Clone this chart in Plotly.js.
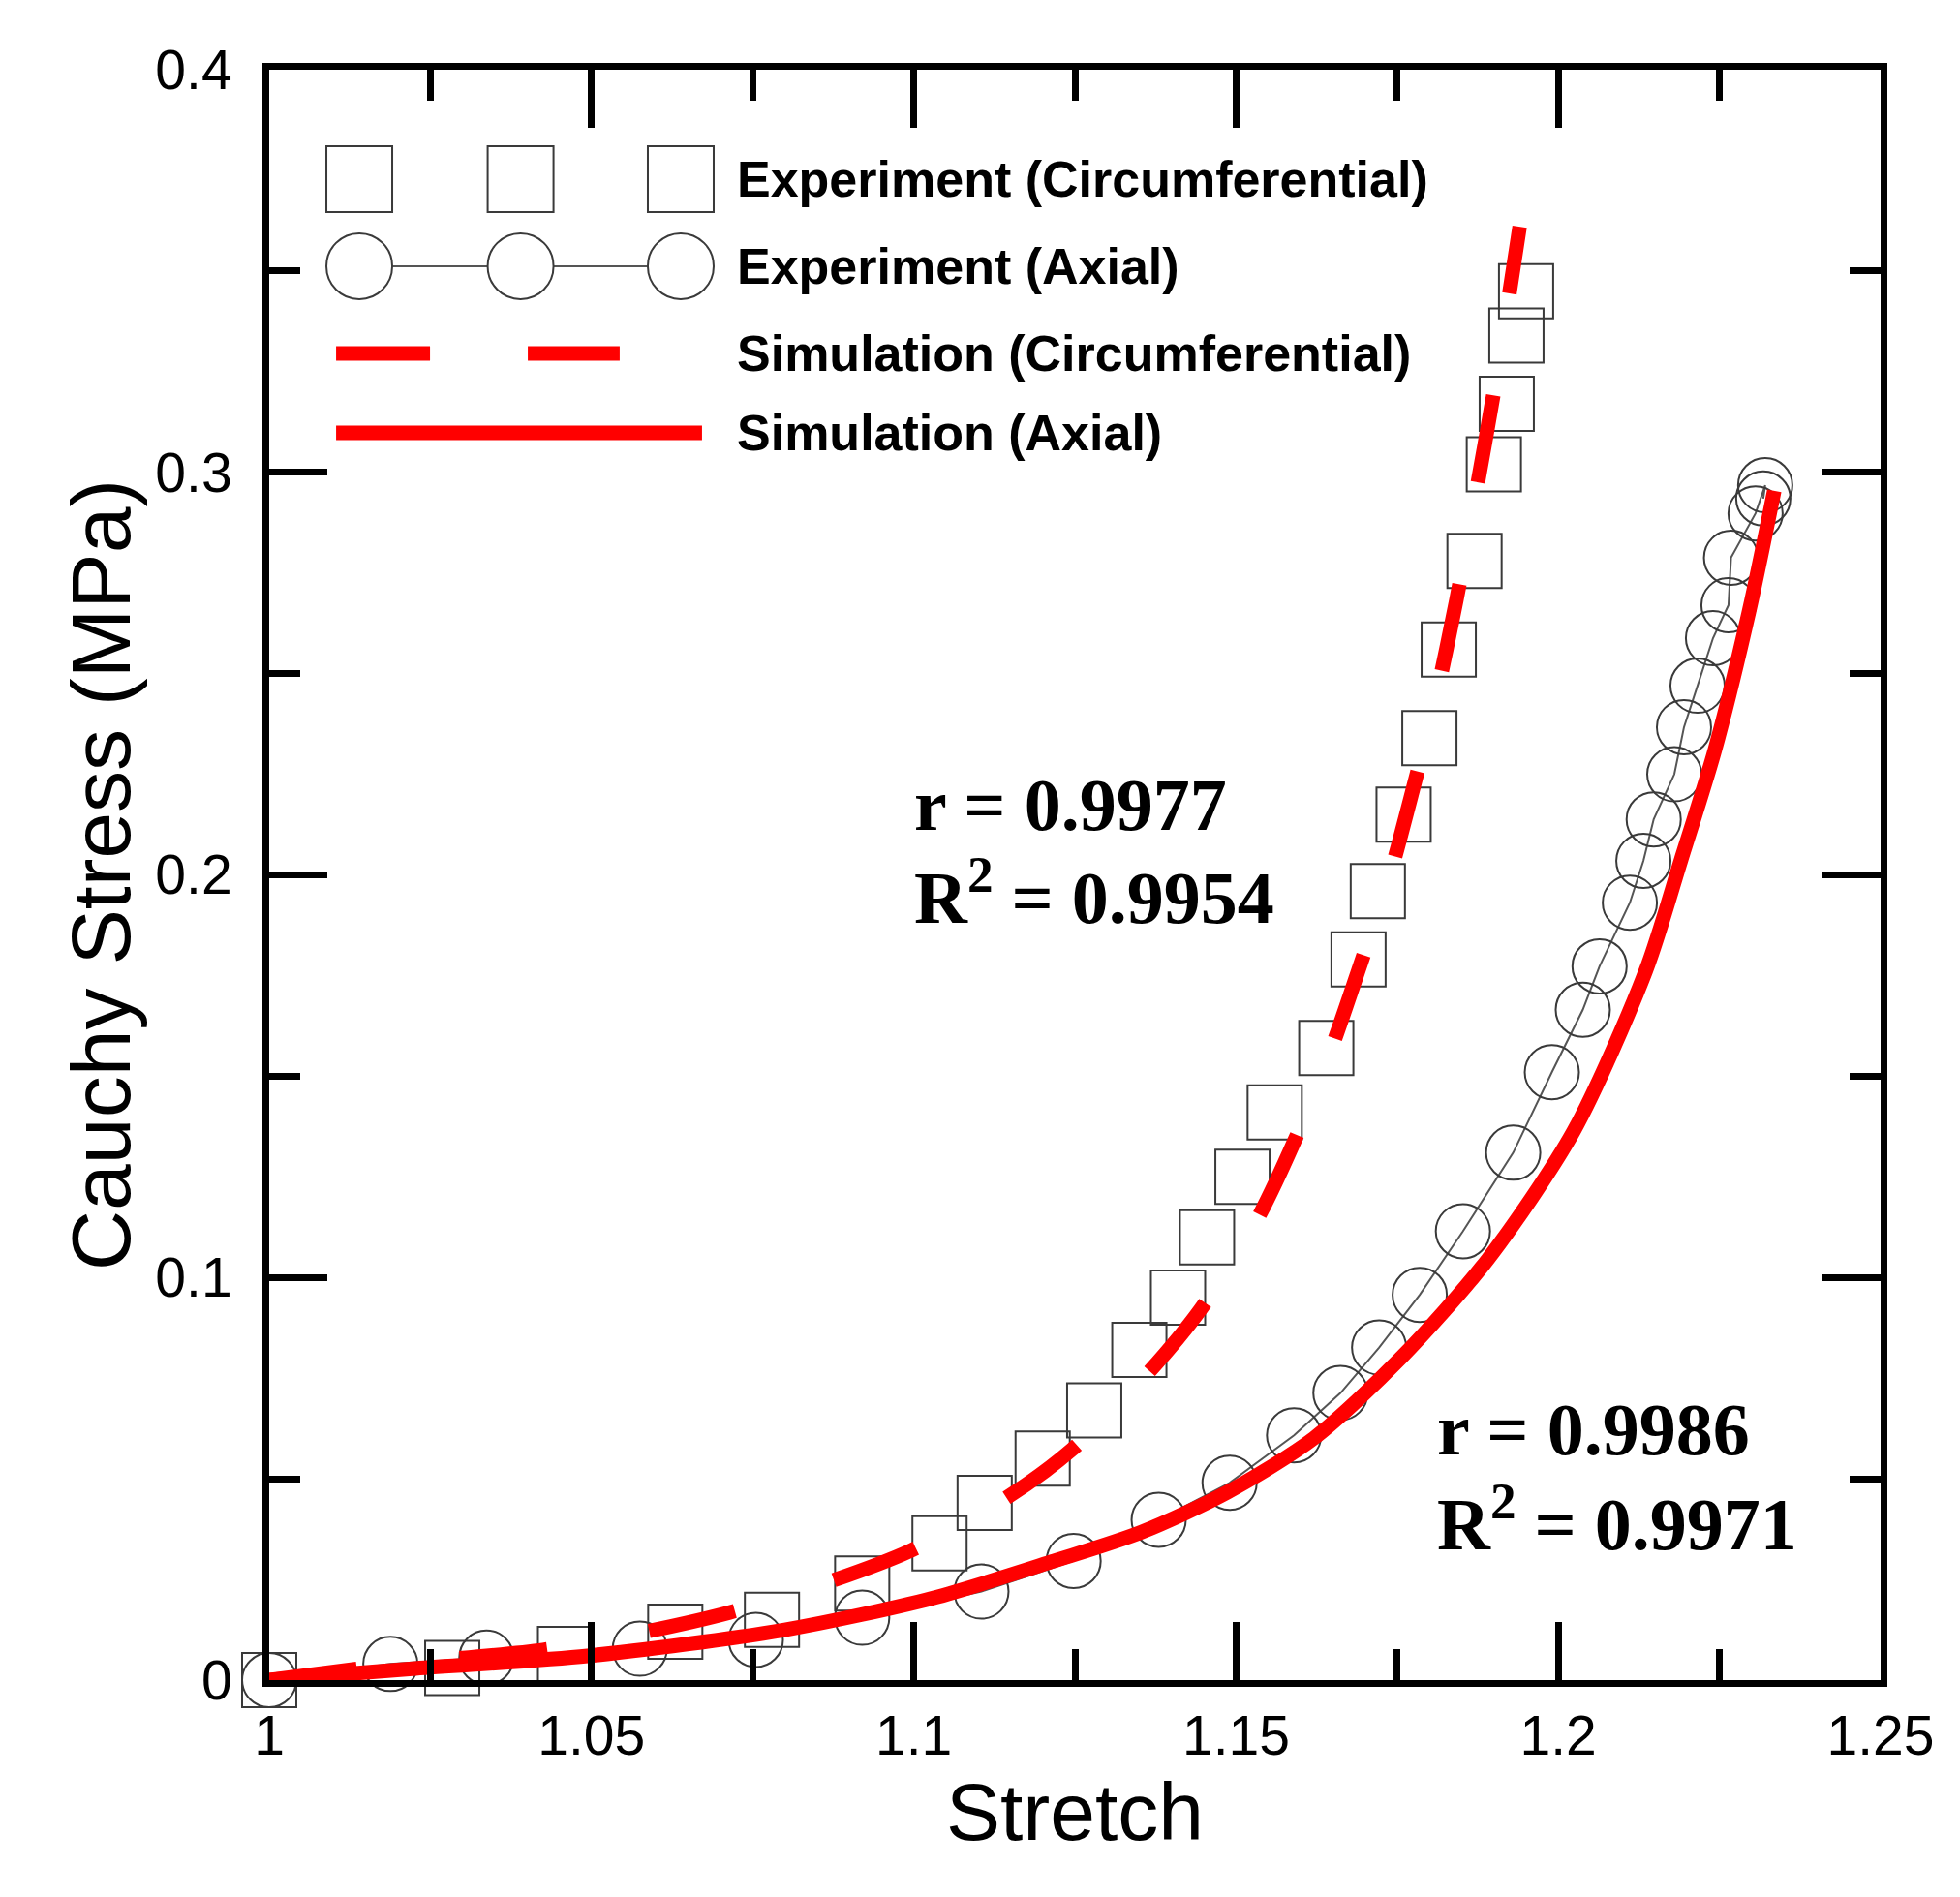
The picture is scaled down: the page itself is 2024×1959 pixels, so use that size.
<!DOCTYPE html>
<html>
<head>
<meta charset="utf-8">
<script src="https://cdn.plot.ly/plotly-3.0.1.min.js"></script>
<style>
  html, body { margin: 0; padding: 0; background: #fff; }
  #chart { width: 2024px; height: 1959px; }
</style>
</head>
<body>
<div id="chart"></div>
<script>
// experiment, circumferential direction (squares)
const circStretch = [1.000, 1.0284, 1.0459, 1.063, 1.078, 1.092, 1.104, 1.111, 1.120, 1.128, 1.135, 1.141, 1.1455,
    1.151, 1.156, 1.164, 1.169, 1.172, 1.176, 1.180, 1.183, 1.187, 1.190, 1.192, 1.1935, 1.1950];
const circStress = [0.000, 0.003, 0.0065, 0.012, 0.015, 0.024, 0.034, 0.044, 0.055, 0.067, 0.082, 0.095, 0.110,
    0.125, 0.141, 0.157, 0.179, 0.196, 0.215, 0.234, 0.256, 0.278, 0.302, 0.317, 0.334, 0.345];

// experiment, axial direction (circles)
const axialStretch = [1.000, 1.0188, 1.0337, 1.0575, 1.0755, 1.092, 1.1105, 1.1248, 1.138, 1.149, 1.159, 1.1662,
    1.1722, 1.1785, 1.1852, 1.193, 1.199, 1.2038, 1.2064, 1.2111, 1.2132, 1.2148, 1.218, 1.2195, 1.2216, 1.224,
    1.2264, 1.2268, 1.2306, 1.2321, 1.2318];
const axialStress = [0.000, 0.004, 0.0056, 0.0078, 0.010, 0.0155, 0.022, 0.0296, 0.0398, 0.049, 0.0608, 0.0713,
    0.0826, 0.0957, 0.1115, 0.131, 0.151, 0.1665, 0.1773, 0.1931, 0.2035, 0.2138, 0.225, 0.2367, 0.247, 0.2588,
    0.267, 0.2788, 0.2898, 0.2968, 0.2935];

// simulation curves
const simCircStretch = [1.000, 1.020, 1.0425, 1.0583, 1.0714, 1.087, 1.0993, 1.1142, 1.1245, 1.1363, 1.1445,
    1.1528, 1.159, 1.1646, 1.1692, 1.1737, 1.1774, 1.181, 1.1842, 1.1869, 1.190, 1.194];
const simCircStress = [0.000, 0.004, 0.0075, 0.012, 0.0168, 0.0245, 0.032, 0.0451, 0.0572, 0.0762, 0.0921,
    0.113, 0.1337, 0.156, 0.1773, 0.199, 0.221, 0.244, 0.2684, 0.292, 0.320, 0.361];
const simAxialStretch = [1.000, 1.0227, 1.0494, 1.080, 1.103, 1.1218, 1.1354, 1.1487, 1.1621, 1.1755, 1.189,
    1.2024, 1.2136, 1.219, 1.2243, 1.2296, 1.2335];
const simAxialStress = [0.000, 0.0029, 0.006, 0.0125, 0.0204, 0.0296, 0.0368, 0.0467, 0.0601, 0.0799, 0.1044,
    0.1364, 0.1763, 0.2035, 0.2311, 0.2655, 0.2954];

const legendNames = ['Experiment (Circumferential)', 'Experiment (Axial)',
    'Simulation (Circumferential)', 'Simulation (Axial)'];
const fitCirc = ['r = 0.9977', 'R<sup>2</sup> = 0.9954'];
const fitAxial = ['r = 0.9986', 'R<sup>2</sup> = 0.9971'];

const RED = '#ff0000';
const MARKER_EDGE = '#3a3a3a';
const SANS = 'Liberation Sans, Arial, sans-serif';
const SERIF = 'Liberation Serif, Times New Roman, serif';

// legend glyph layout, in plot-area fractions (overlay axis 0..1)
const legX = [0.0559, 0.156, 0.2554];
const legY = [0.932, 0.878, 0.8238, 0.7745];

const traces = [
    {
        x: circStretch, y: circStress, mode: 'markers', type: 'scatter', cliponaxis: false,
        marker: { symbol: 'square-open', size: 56, color: MARKER_EDGE, line: { width: 2, color: MARKER_EDGE } }
    },
    {
        x: axialStretch, y: axialStress, mode: 'lines+markers', type: 'scatter', cliponaxis: false,
        line: { color: '#555', width: 2 },
        marker: { symbol: 'circle-open', size: 56, color: MARKER_EDGE, line: { width: 2, color: MARKER_EDGE } }
    },
    {
        x: simCircStretch, y: simCircStress, mode: 'lines', type: 'scatter', cliponaxis: false,
        line: { color: RED, width: 15, dash: '91px,107px', shape: 'spline', smoothing: 0.8 }
    },
    {
        x: simAxialStretch, y: simAxialStress, mode: 'lines', type: 'scatter', cliponaxis: false,
        line: { color: RED, width: 15, shape: 'spline', smoothing: 0.8 }
    },
    // legend glyphs
    {
        x: legX, y: [legY[0], legY[0], legY[0]], xaxis: 'x2', yaxis: 'y2', mode: 'markers', type: 'scatter',
        marker: { symbol: 'square', size: 68, color: '#fff', line: { width: 2, color: MARKER_EDGE } }
    },
    {
        x: legX, y: [legY[1], legY[1], legY[1]], xaxis: 'x2', yaxis: 'y2', mode: 'lines+markers', type: 'scatter',
        line: { color: '#555', width: 2 },
        marker: { symbol: 'circle', size: 68, color: '#fff', line: { width: 2, color: MARKER_EDGE } }
    },
    {
        x: [0.0415, 0.2175], y: [legY[2], legY[2]], xaxis: 'x2', yaxis: 'y2', mode: 'lines', type: 'scatter',
        line: { color: RED, width: 15, dash: '97px,101px' }
    },
    {
        x: [0.0415, 0.2686], y: [legY[3], legY[3]], xaxis: 'x2', yaxis: 'y2', mode: 'lines', type: 'scatter',
        line: { color: RED, width: 15 }
    }
];

const annotations = legendNames.map((name, i) => ({
    text: name, xref: 'paper', yref: 'paper', x: 0.289, y: legY[i], xanchor: 'left', yanchor: 'middle',
    showarrow: false, font: { family: SANS, size: 52, weight: 'bold', color: '#000' }
}));
const fitText = (txt, x, y) => ({
    text: txt, xref: 'paper', yref: 'paper', x: x, y: y, xanchor: 'left', yanchor: 'middle',
    showarrow: false, font: { family: SERIF, size: 76, weight: 'bold', color: '#000' }
});
annotations.push(fitText(fitCirc[0], 0.399, 0.5436));
annotations.push(fitText(fitCirc[1], 0.399, 0.4889));
annotations.push(fitText(fitAxial[0], 0.7236, 0.1557));
annotations.push(fitText(fitAxial[1], 0.7236, 0.1004));

const axisCommon = {
    showgrid: false, zeroline: false,
    showline: true, linewidth: 7, linecolor: '#000', mirror: 'allticks',
    ticks: 'inside', ticklen: 60, tickwidth: 7, tickcolor: '#000',
    tickfont: { family: SANS, size: 57, color: '#000' }
};

const layout = {
    width: 2024, height: 1959,
    margin: { l: 278, r: 82, t: 72, b: 224 },
    paper_bgcolor: '#fff', plot_bgcolor: '#fff',
    showlegend: false,
    font: { family: SANS, color: '#000' },
    xaxis: Object.assign({}, axisCommon, {
        range: [1, 1.25], tick0: 1, dtick: 0.05,
        minor: { dtick: 0.025, ticks: 'inside', ticklen: 32, tickwidth: 7, tickcolor: '#000' },
        ticklabelstandoff: 2,
        title: { text: 'Stretch', font: { family: SANS, size: 84, color: '#000' }, standoff: 13 }
    }),
    yaxis: Object.assign({}, axisCommon, {
        range: [0, 0.4], tick0: 0, dtick: 0.1,
        minor: { dtick: 0.05, ticks: 'inside', ticklen: 32, tickwidth: 7, tickcolor: '#000' },
        ticklabelstandoff: 20,
        title: { text: 'Cauchy Stress (MPa)', font: { family: SANS, size: 86, color: '#000' }, standoff: 0 }
    }),
    xaxis2: { overlaying: 'x', anchor: 'y2', range: [0, 1], visible: false },
    yaxis2: { overlaying: 'y', anchor: 'x2', range: [0, 1], visible: false },
    annotations: annotations
};

Plotly.newPlot('chart', traces, layout, { staticPlot: true, displayModeBar: false });
</script>
</body>
</html>
